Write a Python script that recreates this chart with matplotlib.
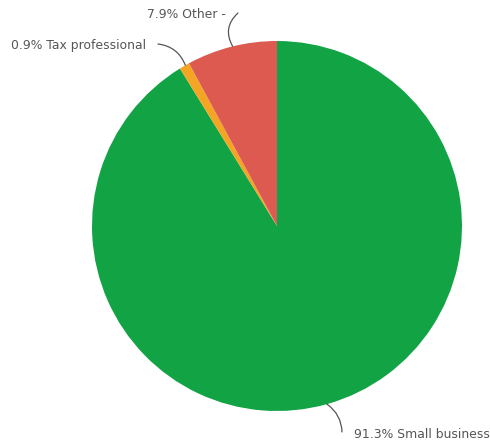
import numpy as np
import matplotlib.pyplot as plt

# slice data, clockwise from 12 o'clock
labels = ["Small business", "Tax professional", "Other -"]
shares = [91.3, 0.9, 7.9]
colors = ["#12a345", "#f5a524", "#dc5a50"]

fig = plt.figure(figsize=(4.9, 4.47), dpi=100)
ax = fig.add_axes([0, 0, 1, 1])

cx, cy, r = 277, 221, 185
ax.pie(shares, colors=colors, startangle=90, counterclock=False,
       center=(cx, cy), radius=r, frame=True,
       wedgeprops=dict(linewidth=0))
ax.set_xlim(0, 490)
ax.set_ylim(0, 447)
ax.set_aspect("equal")
ax.axis("off")

# label text anchors (pixel coords, y up) and where the leader leaves the text
text_pos = [(354, 12, "left"), (146, 401, "right"), (226, 432, "right")]
line_start = [(342, 15), (158, 403), (238, 434)]
rads = [0.25, -0.3, 0.4]

cum = 0
for i, v in enumerate(shares):
    mid = cum + v / 2
    cum += v
    ang = np.deg2rad(90 - mid / 100 * 360)
    px, py = cx + r * np.cos(ang), cy + r * np.sin(ang)
    tx, ty, ha = text_pos[i]
    ax.text(tx, ty, f"{v}% {labels[i]}", ha=ha, va="center",
            fontsize=8.9, color="#555555", family="DejaVu Sans")
    ax.annotate("", xy=(px, py), xytext=line_start[i],
                arrowprops=dict(arrowstyle="-", color="#555555", lw=0.9,
                                connectionstyle=f"arc3,rad={rads[i]}",
                                shrinkA=0, shrinkB=0))

fig.savefig("out.png", dpi=100)
